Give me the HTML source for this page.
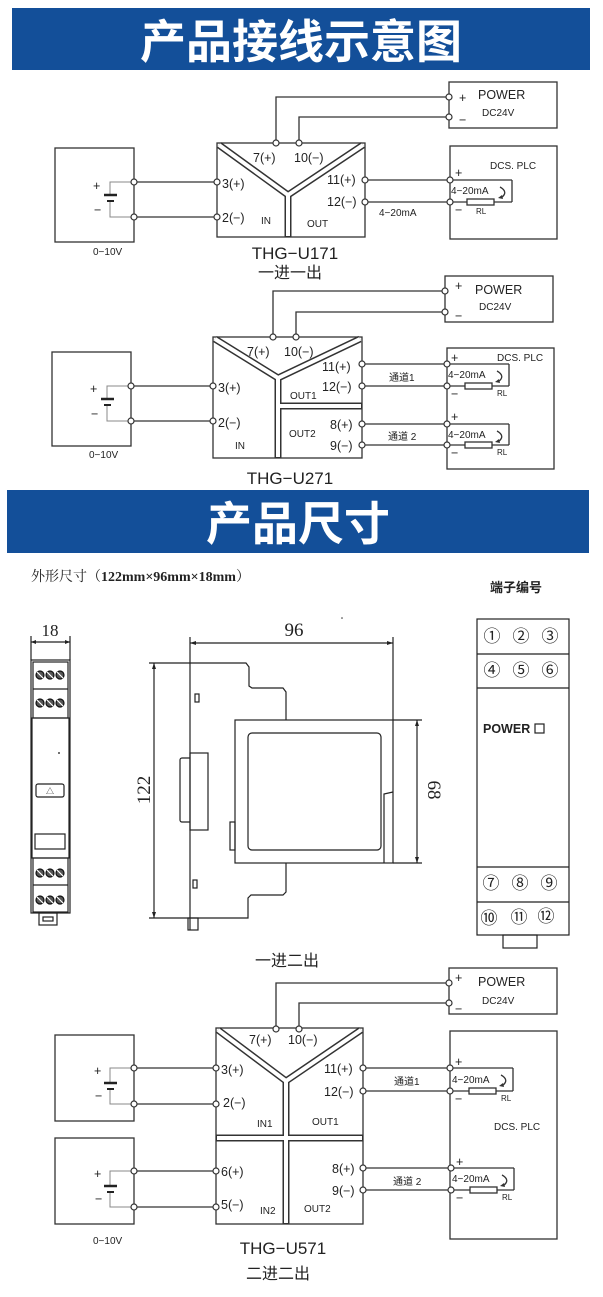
<!DOCTYPE html>
<html><head><meta charset="utf-8"><style>
html,body{margin:0;padding:0;background:#fff}
svg{display:block}
text{font-family:"Liberation Sans","Noto Sans CJK SC",sans-serif;fill:#222}
.ln{stroke:#333;stroke-width:1.3;fill:none}
.g{stroke:#888;stroke-width:1;fill:none}
.nd{fill:#fff;stroke:#333;stroke-width:1.2}
.yy{stroke:#333;stroke-width:7;fill:none;stroke-linejoin:miter}
.yw{stroke:#fff;stroke-width:4;fill:none;stroke-linejoin:miter}
.l{font-size:12.5px}
.s{font-size:10px}
.xs{font-size:8px}
.dr{stroke:#222;stroke-width:1.2;fill:none}
</style></head><body>
<svg width="603" height="1297" viewBox="0 0 603 1297" xmlns="http://www.w3.org/2000/svg">
<rect x="12" y="8" width="578" height="62" fill="#134f99"/>
<text x="301" y="58" text-anchor="middle" style="font-size:46px;fill:#fff;font-weight:bold;font-family:'Noto Sans CJK SC',sans-serif">产品接线示意图</text>

<g>
<rect x="449" y="82" width="108" height="46" class="ln"/>
<text x="459" y="102" class="l">+</text><text x="478" y="99" style="font-size:12.5px">POWER</text>
<text x="482" y="116" class="s">DC24V</text><text x="459" y="124" class="l">−</text>
<polyline points="276,143 276,97 449,97" class="ln"/>
<polyline points="299,143 299,117 449,117" class="ln"/>
<circle cx="449" cy="97" r="3" class="nd"/><circle cx="449" cy="117" r="3" class="nd"/>
<rect x="217" y="143" width="148" height="94" class="ln"/>
<polyline points="219,145 288,195 363,145" class="yy"/><line x1="288" y1="195" x2="288" y2="237" class="yy"/>
<polyline points="219,145 288,195 363,145" class="yw"/><line x1="288" y1="195" x2="288" y2="236" class="yw"/>
<circle cx="276" cy="143" r="3" class="nd"/><circle cx="299" cy="143" r="3" class="nd"/>
<text x="253" y="162" class="l">7(+)</text><text x="294" y="162" class="l">10(−)</text>
<text x="222" y="188" class="l">3(+)</text><text x="222" y="222" class="l">2(−)</text>
<text x="261" y="224" class="s">IN</text><text x="307" y="227" class="s">OUT</text>
<text x="327" y="184" class="l">11(+)</text><text x="327" y="206" class="l">12(−)</text>
<rect x="55" y="148" width="79" height="94" class="ln"/>
<polyline points="134,182 110,182 110,195" class="g"/><polyline points="110,201 110,217 134,217" class="g"/>
<line x1="104" y1="195" x2="117" y2="195" stroke="#222" stroke-width="2.5"/><line x1="107" y1="201" x2="114" y2="201" stroke="#222" stroke-width="2"/>
<text x="93" y="190" class="l">+</text><text x="94" y="214" class="l">−</text>
<line x1="134" y1="182" x2="217" y2="182" class="ln"/><line x1="134" y1="217" x2="217" y2="217" class="ln"/>
<circle cx="134" cy="182" r="3" class="nd"/><circle cx="134" cy="217" r="3" class="nd"/>
<circle cx="217" cy="182" r="3" class="nd"/><circle cx="217" cy="217" r="3" class="nd"/>
<text x="93" y="255" class="s">0−10V</text>
<rect x="450" y="146" width="107" height="93" class="ln"/>
<text x="490" y="169" class="s">DCS. PLC</text>
<line x1="365" y1="180" x2="512" y2="180" class="ln"/><line x1="512" y1="180" x2="512" y2="202" class="ln"/>
<line x1="365" y1="202" x2="467" y2="202" class="ln"/><line x1="494" y1="202" x2="512" y2="202" class="ln"/>
<rect x="467" y="199" width="27" height="6" class="ln" fill="#fff"/>
<path d="M500,187 Q509,192 501,198" class="ln"/><path d="M498,198 L502,195 L503,199Z" fill="#333"/>
<circle cx="365" cy="180" r="3" class="nd"/><circle cx="365" cy="202" r="3" class="nd"/>
<circle cx="450" cy="180" r="3" class="nd"/><circle cx="450" cy="202" r="3" class="nd"/>
<text x="455" y="177" class="l">+</text><text x="455" y="214" class="l">−</text>
<text x="451" y="194" class="s">4−20mA</text><text x="476" y="214" class="xs">RL</text>
<text x="379" y="216" class="s">4−20mA</text>
<text x="295" y="259" text-anchor="middle" style="font-size:17px">THG−U171</text>
<text x="290" y="278" text-anchor="middle" style="font-size:16px">一进一出</text>
</g>

<g>
<rect x="445" y="276" width="108" height="46" class="ln"/>
<text x="455" y="290" class="l">+</text><text x="475" y="294" style="font-size:12.5px">POWER</text>
<text x="479" y="310" class="s">DC24V</text><text x="455" y="320" class="l">−</text>
<polyline points="273,337 273,291 445,291" class="ln"/>
<polyline points="296,337 296,312 445,312" class="ln"/>
<circle cx="445" cy="291" r="3" class="nd"/><circle cx="445" cy="312" r="3" class="nd"/>
<rect x="213" y="337" width="149" height="121" class="ln"/>
<polyline points="215,339 278,378 360,339" class="yy"/><line x1="278" y1="378" x2="278" y2="458" class="yy"/><line x1="278" y1="406" x2="362" y2="406" class="yy"/>
<polyline points="215,339 278,378 360,339" class="yw"/><line x1="278" y1="378" x2="278" y2="457" class="yw"/><line x1="279" y1="406" x2="361" y2="406" class="yw"/>
<circle cx="273" cy="337" r="3" class="nd"/><circle cx="296" cy="337" r="3" class="nd"/>
<text x="247" y="356" class="l">7(+)</text><text x="284" y="356" class="l">10(−)</text>
<text x="218" y="392" class="l">3(+)</text><text x="218" y="427" class="l">2(−)</text>
<text x="235" y="449" class="s">IN</text>
<text x="290" y="399" class="s">OUT1</text><text x="289" y="437" class="s">OUT2</text>
<text x="322" y="371" class="l">11(+)</text><text x="322" y="391" class="l">12(−)</text>
<text x="330" y="429" class="l">8(+)</text><text x="330" y="450" class="l">9(−)</text>
<rect x="52" y="352" width="79" height="94" class="ln"/>
<polyline points="131,386 107,386 107,399" class="g"/><polyline points="107,405 107,421 131,421" class="g"/>
<line x1="101" y1="399" x2="114" y2="399" stroke="#222" stroke-width="2.5"/><line x1="104" y1="405" x2="111" y2="405" stroke="#222" stroke-width="2"/>
<text x="90" y="393" class="l">+</text><text x="91" y="418" class="l">−</text>
<line x1="131" y1="386" x2="213" y2="386" class="ln"/><line x1="131" y1="421" x2="213" y2="421" class="ln"/>
<circle cx="131" cy="386" r="3" class="nd"/><circle cx="131" cy="421" r="3" class="nd"/>
<circle cx="213" cy="386" r="3" class="nd"/><circle cx="213" cy="421" r="3" class="nd"/>
<text x="89" y="458" class="s">0−10V</text>
<rect x="447" y="348" width="107" height="121" class="ln"/>
<text x="497" y="361" class="s">DCS. PLC</text>
<line x1="362" y1="364" x2="509" y2="364" class="ln"/><line x1="509" y1="364" x2="509" y2="386" class="ln"/>
<line x1="362" y1="386" x2="465" y2="386" class="ln"/><line x1="492" y1="386" x2="509" y2="386" class="ln"/>
<rect x="465" y="383" width="27" height="6" class="ln" fill="#fff"/>
<path d="M497,371 Q506,376 498,382" class="ln"/><path d="M495,382 L499,379 L500,383Z" fill="#333"/>
<circle cx="362" cy="364" r="3" class="nd"/><circle cx="362" cy="386" r="3" class="nd"/>
<circle cx="447" cy="364" r="3" class="nd"/><circle cx="447" cy="386" r="3" class="nd"/>
<text x="451" y="362" class="l">+</text><text x="451" y="398" class="l">−</text>
<text x="448" y="378" class="s">4−20mA</text><text x="497" y="396" class="xs">RL</text>
<text x="389" y="381" class="s">通道1</text>
<line x1="362" y1="424" x2="509" y2="424" class="ln"/><line x1="509" y1="424" x2="509" y2="445" class="ln"/>
<line x1="362" y1="445" x2="465" y2="445" class="ln"/><line x1="492" y1="445" x2="509" y2="445" class="ln"/>
<rect x="465" y="442" width="27" height="6" class="ln" fill="#fff"/>
<path d="M497,431 Q506,436 498,442" class="ln"/><path d="M495,442 L499,439 L500,443Z" fill="#333"/>
<circle cx="362" cy="424" r="3" class="nd"/><circle cx="362" cy="445" r="3" class="nd"/>
<circle cx="447" cy="424" r="3" class="nd"/><circle cx="447" cy="445" r="3" class="nd"/>
<text x="451" y="421" class="l">+</text><text x="451" y="457" class="l">−</text>
<text x="448" y="438" class="s">4−20mA</text><text x="497" y="455" class="xs">RL</text>
<text x="388" y="440" class="s">通道 2</text>
<text x="290" y="484" text-anchor="middle" style="font-size:17px">THG−U271</text>
</g>

<rect x="7" y="490" width="582" height="63" fill="#134f99"/>
<text x="298" y="540" text-anchor="middle" style="font-size:46px;fill:#fff;font-weight:bold;font-family:'Noto Sans CJK SC',sans-serif">产品尺寸</text>

<text x="31" y="581" style="font-size:14px;font-family:'Liberation Serif','Noto Serif CJK SC',serif">外形尺寸（<tspan font-weight="bold">122mm×96mm×18mm</tspan>）</text>
<text x="490" y="592" style="font-size:13px;font-weight:bold">端子编号</text>

<g>
<text x="50" y="636" text-anchor="middle" style="font-size:17px;font-family:'Liberation Serif',serif">18</text>
<line x1="31" y1="636" x2="31" y2="660" class="dr" stroke-width="0.8"/><line x1="70" y1="636" x2="70" y2="660" class="dr" stroke-width="0.8"/>
<line x1="31" y1="642" x2="70" y2="642" class="dr" stroke-width="0.8"/>
<path d="M31,642 l5,-2 v4z M70,642 l-5,-2 v4z" fill="#222"/>
<rect x="31" y="660" width="39" height="253" class="dr" stroke-width="1.5"/>
<rect x="33" y="662" width="35" height="56" class="dr"/>
<line x1="33" y1="689" x2="68" y2="689" class="dr"/>
<rect x="32" y="718" width="37" height="140" class="dr" stroke-width="2"/>
<rect x="33" y="858" width="35" height="54" class="dr"/>
<line x1="33" y1="885" x2="68" y2="885" class="dr"/>
<g fill="#555" stroke="#111" stroke-width="1.2">
<circle cx="40" cy="675" r="4"/><circle cx="50" cy="675" r="4"/><circle cx="60" cy="675" r="4"/>
<circle cx="40" cy="703" r="4"/><circle cx="50" cy="703" r="4"/><circle cx="60" cy="703" r="4"/>
<circle cx="40" cy="873" r="4"/><circle cx="50" cy="873" r="4"/><circle cx="60" cy="873" r="4"/>
<circle cx="40" cy="900" r="4"/><circle cx="50" cy="900" r="4"/><circle cx="60" cy="900" r="4"/>
</g>
<path d="M37,672 l6,6 M47,672 l6,6 M57,672 l6,6 M37,700 l6,6 M47,700 l6,6 M57,700 l6,6 M37,870 l6,6 M47,870 l6,6 M57,870 l6,6 M37,897 l6,6 M47,897 l6,6 M57,897 l6,6" stroke="#fff" stroke-width="1.2"/>
<circle cx="59" cy="753" r="1" fill="#444"/>
<rect x="36" y="784" width="28" height="13" rx="2" class="dr" stroke-width="0.9"/>
<text x="50" y="794" text-anchor="middle" class="xs">△</text>
<rect x="35" y="834" width="30" height="15" class="dr" stroke-width="0.7" stroke="#777"/>
<rect x="39" y="913" width="18" height="12" class="dr" stroke-width="0.9"/>
<rect x="43" y="917" width="10" height="4" class="dr" stroke-width="0.7"/>
</g>

<g>
<text x="294" y="636" text-anchor="middle" style="font-size:19px;font-family:'Liberation Serif',serif">96</text>
<circle cx="342" cy="618" r="0.8" fill="#333"/>
<line x1="190" y1="643" x2="393" y2="643" class="dr" stroke-width="0.9"/>
<path d="M190,643 l6,-2 v4z M393,643 l-6,-2 v4z" fill="#222"/>
<line x1="393" y1="637" x2="393" y2="720" class="dr" stroke-width="0.9"/>
<line x1="190" y1="637" x2="190" y2="930" class="dr"/>
<polyline points="149,663 246,663 249,667 249,686 252,688 283,688 286,692 286,720" class="dr"/>
<line x1="154" y1="663" x2="154" y2="918" class="dr" stroke-width="0.9"/>
<path d="M154,663 l-2,6 h4z M154,918 l-2,-6 h4z" fill="#222"/>
<text transform="translate(150,790) rotate(-90)" text-anchor="middle" style="font-size:19px;font-family:'Liberation Serif',serif">122</text>
<rect x="235" y="720" width="158" height="143" class="dr"/>
<line x1="393" y1="720" x2="422" y2="720" class="dr" stroke-width="0.9"/>
<line x1="393" y1="863" x2="422" y2="863" class="dr" stroke-width="0.9"/>
<rect x="248" y="733" width="133" height="117" rx="4" class="dr" stroke-width="1.5"/>
<polyline points="384,863 384,794 393,792" class="dr"/>
<line x1="417" y1="720" x2="417" y2="863" class="dr" stroke-width="0.9"/>
<path d="M417,720 l-2,6 h4z M417,863 l-2,-6 h4z" fill="#222"/>
<text transform="translate(428,790) rotate(90)" text-anchor="middle" style="font-size:19px;font-family:'Liberation Serif',serif">68</text>
<polyline points="286,863 286,892 283,895 251,895 248,898 248,918 149,918" class="dr"/>
<rect x="190" y="753" width="18" height="77" class="dr"/>
<path d="M190,758 h-8 a2,2 0 0 0 -2,2 v60 a2,2 0 0 0 2,2 h8" class="dr" stroke="#666"/>
<rect x="195" y="694" width="4" height="8" class="dr" stroke-width="0.9"/>
<rect x="193" y="880" width="4" height="8" class="dr" stroke-width="0.9"/>
<rect x="230" y="822" width="5" height="28" class="dr" stroke-width="0.7" stroke="#777"/>
<rect x="188" y="918" width="10" height="12" class="dr" stroke-width="0.7" stroke="#777"/>
</g>

<g>
<rect x="477" y="619" width="92" height="316" class="dr" stroke-width="1.5"/>
<line x1="477" y1="654" x2="569" y2="654" class="dr"/>
<line x1="477" y1="688" x2="569" y2="688" class="dr"/>
<line x1="477" y1="867" x2="569" y2="867" class="dr"/>
<line x1="477" y1="902" x2="569" y2="902" class="dr"/>
<g style="font-size:17px" text-anchor="middle">
<text x="492" y="642">①</text><text x="521" y="642">②</text><text x="550" y="642">③</text>
<text x="492" y="676">④</text><text x="521" y="676">⑤</text><text x="550" y="676">⑥</text>
<text x="491" y="889">⑦</text><text x="520" y="889">⑧</text><text x="549" y="889">⑨</text>
<text x="489" y="924">⑩</text><text x="519" y="923">⑪</text><text x="546" y="922">⑫</text>
</g>
<text x="483" y="733" style="font-size:12.5px;font-weight:bold">POWER</text>
<rect x="535" y="724" width="9" height="9" class="dr" stroke-width="1.4"/>
<rect x="503" y="935" width="34" height="13" class="dr" stroke-width="1.3"/>
</g>

<text x="287" y="966" text-anchor="middle" style="font-size:16px">一进二出</text>

<g>
<rect x="449" y="968" width="108" height="46" class="ln"/>
<text x="455" y="982" class="l">+</text><text x="478" y="986" style="font-size:12.5px">POWER</text>
<text x="482" y="1004" class="s">DC24V</text><text x="455" y="1013" class="l">−</text>
<polyline points="276,1029 276,983 449,983" class="ln"/>
<polyline points="299,1029 299,1003 449,1003" class="ln"/>
<circle cx="449" cy="983" r="3" class="nd"/><circle cx="449" cy="1003" r="3" class="nd"/>
<rect x="216" y="1028" width="147" height="196" class="ln"/>
<polyline points="218,1030 286,1081 361,1030" class="yy"/><line x1="286" y1="1081" x2="286" y2="1224" class="yy"/><line x1="216" y1="1138" x2="363" y2="1138" class="yy"/>
<polyline points="218,1030 286,1081 361,1030" class="yw"/><line x1="286" y1="1081" x2="286" y2="1223" class="yw"/><line x1="217" y1="1138" x2="362" y2="1138" class="yw"/>
<circle cx="276" cy="1029" r="3" class="nd"/><circle cx="299" cy="1029" r="3" class="nd"/>
<text x="249" y="1044" class="l">7(+)</text><text x="288" y="1044" class="l">10(−)</text>
<text x="221" y="1074" class="l">3(+)</text><text x="223" y="1107" class="l">2(−)</text>
<text x="221" y="1176" class="l">6(+)</text><text x="221" y="1209" class="l">5(−)</text>
<text x="257" y="1127" class="s">IN1</text><text x="312" y="1125" class="s">OUT1</text>
<text x="260" y="1214" class="s">IN2</text><text x="304" y="1212" class="s">OUT2</text>
<text x="324" y="1073" class="l">11(+)</text><text x="324" y="1096" class="l">12(−)</text>
<text x="332" y="1173" class="l">8(+)</text><text x="332" y="1195" class="l">9(−)</text>
<rect x="55" y="1035" width="79" height="86" class="ln"/>
<polyline points="134,1068 110,1068 110,1083" class="g"/><polyline points="110,1089 110,1104 134,1104" class="g"/>
<line x1="104" y1="1083" x2="117" y2="1083" stroke="#222" stroke-width="2.5"/><line x1="107" y1="1089" x2="114" y2="1089" stroke="#222" stroke-width="2"/>
<text x="94" y="1075" class="l">+</text><text x="95" y="1100" class="l">−</text>
<line x1="134" y1="1068" x2="216" y2="1068" class="ln"/><line x1="134" y1="1104" x2="216" y2="1104" class="ln"/>
<circle cx="134" cy="1068" r="3" class="nd"/><circle cx="134" cy="1104" r="3" class="nd"/>
<circle cx="216" cy="1068" r="3" class="nd"/><circle cx="216" cy="1104" r="3" class="nd"/>
<rect x="55" y="1138" width="79" height="86" class="ln"/>
<polyline points="134,1171 110,1171 110,1186" class="g"/><polyline points="110,1192 110,1207 134,1207" class="g"/>
<line x1="104" y1="1186" x2="117" y2="1186" stroke="#222" stroke-width="2.5"/><line x1="107" y1="1192" x2="114" y2="1192" stroke="#222" stroke-width="2"/>
<text x="94" y="1178" class="l">+</text><text x="95" y="1203" class="l">−</text>
<line x1="134" y1="1171" x2="216" y2="1171" class="ln"/><line x1="134" y1="1207" x2="216" y2="1207" class="ln"/>
<circle cx="134" cy="1171" r="3" class="nd"/><circle cx="134" cy="1207" r="3" class="nd"/>
<circle cx="216" cy="1171" r="3" class="nd"/><circle cx="216" cy="1207" r="3" class="nd"/>
<text x="93" y="1244" class="s">0−10V</text>
<rect x="450" y="1031" width="107" height="208" class="ln"/>
<text x="494" y="1130" class="s">DCS. PLC</text>
<line x1="363" y1="1068" x2="513" y2="1068" class="ln"/><line x1="513" y1="1068" x2="513" y2="1091" class="ln"/>
<line x1="363" y1="1091" x2="469" y2="1091" class="ln"/><line x1="496" y1="1091" x2="513" y2="1091" class="ln"/>
<rect x="469" y="1088" width="27" height="6" class="ln" fill="#fff"/>
<path d="M501,1075 Q510,1080 502,1086" class="ln"/><path d="M499,1086 L503,1083 L504,1087Z" fill="#333"/>
<circle cx="363" cy="1068" r="3" class="nd"/><circle cx="363" cy="1091" r="3" class="nd"/>
<circle cx="450" cy="1068" r="3" class="nd"/><circle cx="450" cy="1091" r="3" class="nd"/>
<text x="455" y="1066" class="l">+</text><text x="455" y="1103" class="l">−</text>
<text x="452" y="1083" class="s">4−20mA</text><text x="501" y="1101" class="xs">RL</text>
<text x="394" y="1085" class="s">通道1</text>
<line x1="363" y1="1168" x2="514" y2="1168" class="ln"/><line x1="514" y1="1168" x2="514" y2="1190" class="ln"/>
<line x1="363" y1="1190" x2="470" y2="1190" class="ln"/><line x1="497" y1="1190" x2="514" y2="1190" class="ln"/>
<rect x="470" y="1187" width="27" height="6" class="ln" fill="#fff"/>
<path d="M502,1175 Q511,1180 503,1186" class="ln"/><path d="M500,1186 L504,1183 L505,1187Z" fill="#333"/>
<circle cx="363" cy="1168" r="3" class="nd"/><circle cx="363" cy="1190" r="3" class="nd"/>
<circle cx="451" cy="1168" r="3" class="nd"/><circle cx="451" cy="1190" r="3" class="nd"/>
<text x="456" y="1166" class="l">+</text><text x="456" y="1202" class="l">−</text>
<text x="452" y="1182" class="s">4−20mA</text><text x="502" y="1200" class="xs">RL</text>
<text x="393" y="1185" class="s">通道 2</text>
<text x="283" y="1254" text-anchor="middle" style="font-size:17px">THG−U571</text>
<text x="278" y="1279" text-anchor="middle" style="font-size:16px">二进二出</text>
</g>
</svg>
</body></html>
